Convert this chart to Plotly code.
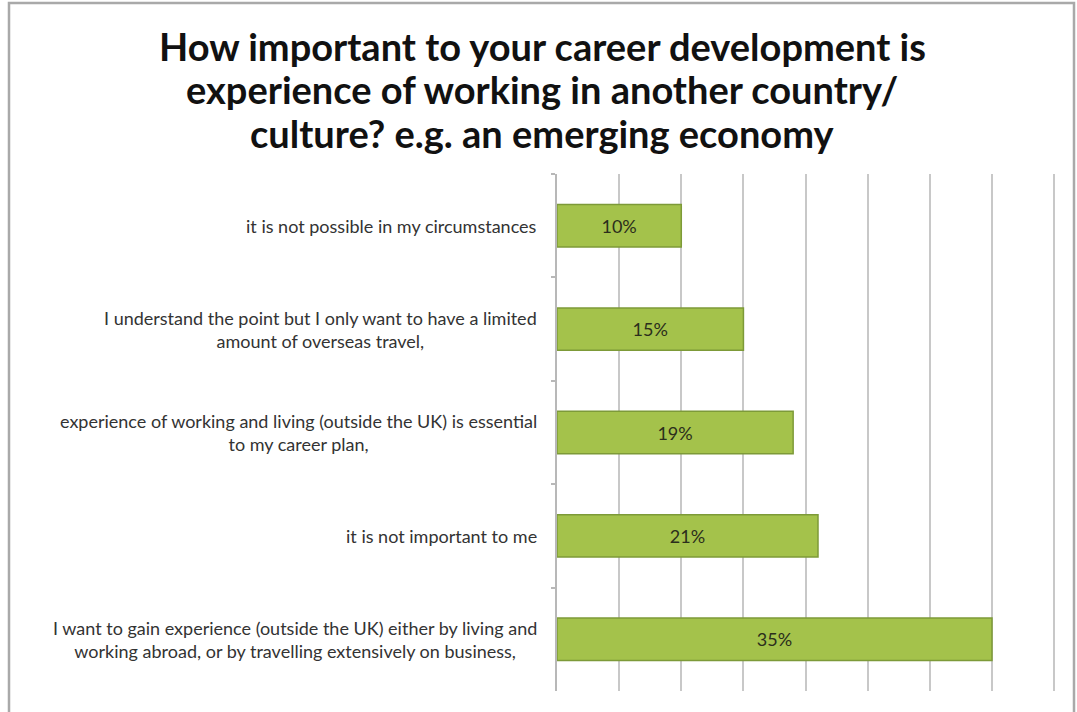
import plotly.graph_objects as go

# Survey answers, listed top to bottom as shown on the chart
answers = [
    "it is not possible in my circumstances",
    "I understand the point but I only want to have a limited<br>amount of overseas travel,",
    "experience of working and living (outside the UK) is essential<br>to my career plan,",
    "it is not important to me",
    "I want to gain experience (outside the UK) either by living and<br>working abroad, or by travelling extensively on business,",
]
shares = [10, 15, 19, 21, 35]  # percent of respondents

title_lines = [
    "How important to your career development is",
    "experience of working in another country/",
    "culture? e.g. an emerging economy",
]

W, H = 1077, 712
ML, MR, MT, MB = 557, 21, 174, 21
plot_h = H - MT - MB
plot_w = W - ML - MR
X_MAX = 40.15

def py(px):
    """Convert a pixel row to paper y."""
    return (H - MB - px) / plot_h

def px_x(px):
    """Convert a pixel column to paper x."""
    return (px - ML) / plot_w

fig = go.Figure(
    go.Bar(
        x=shares,
        y=answers,
        orientation="h",
        marker=dict(color="#a4c24b", line=dict(color="#7d9a38", width=1.5)),
        text=[f"{v}%" for v in shares],
        textposition="inside",
        insidetextanchor="middle",
        textfont=dict(family="Lato", size=18, color="#2b2e1c"),
        width=0.41,
        hoverinfo="skip",
    )
)

annotations = []
# Category labels, centred line by line, right edge just left of the axis
for a in answers:
    annotations.append(dict(
        x=px_x(539), xref="paper", y=a, yref="y",
        text=a, showarrow=False, xanchor="right", yanchor="middle",
        align="center", font=dict(family="Lato", size=18, color="#333333"),
    ))

# Title, one annotation per line for the wide line spacing
for i, line in enumerate(title_lines):
    annotations.append(dict(
        x=px_x(542), xref="paper", y=py(46 + 43.5 * i), yref="paper",
        text=f"<b>{line}</b>", showarrow=False, xanchor="center", yanchor="middle",
        font=dict(family="Lato", size=38, color="#111111"),
    ))

fig.update_layout(
    width=W, height=H,
    margin=dict(l=ML, r=MR, t=MT, b=MB),
    paper_bgcolor="white", plot_bgcolor="white",
    showlegend=False,
    annotations=annotations,
    xaxis=dict(
        range=[0, X_MAX], tick0=0, dtick=5, showticklabels=False,
        showgrid=True, gridcolor="#c8c8c8", gridwidth=2,
        zeroline=False, showline=False, fixedrange=True,
    ),
    yaxis=dict(
        autorange="reversed", showticklabels=False,
        showline=True, linecolor="#b8b8b8", linewidth=2,
        ticks="outside", tickson="boundaries", ticklen=4, tickcolor="#b8b8b8", tickwidth=1.5,
        showgrid=False, fixedrange=True,
    ),
    shapes=[dict(
        type="rect", xref="paper", yref="paper",
        x0=px_x(9), x1=px_x(1074), y0=py(3), y1=py(760),
        line=dict(color="#a9a9a9", width=2.5), fillcolor="rgba(0,0,0,0)", layer="below",
    )],
)

fig.write_html("out.html")
